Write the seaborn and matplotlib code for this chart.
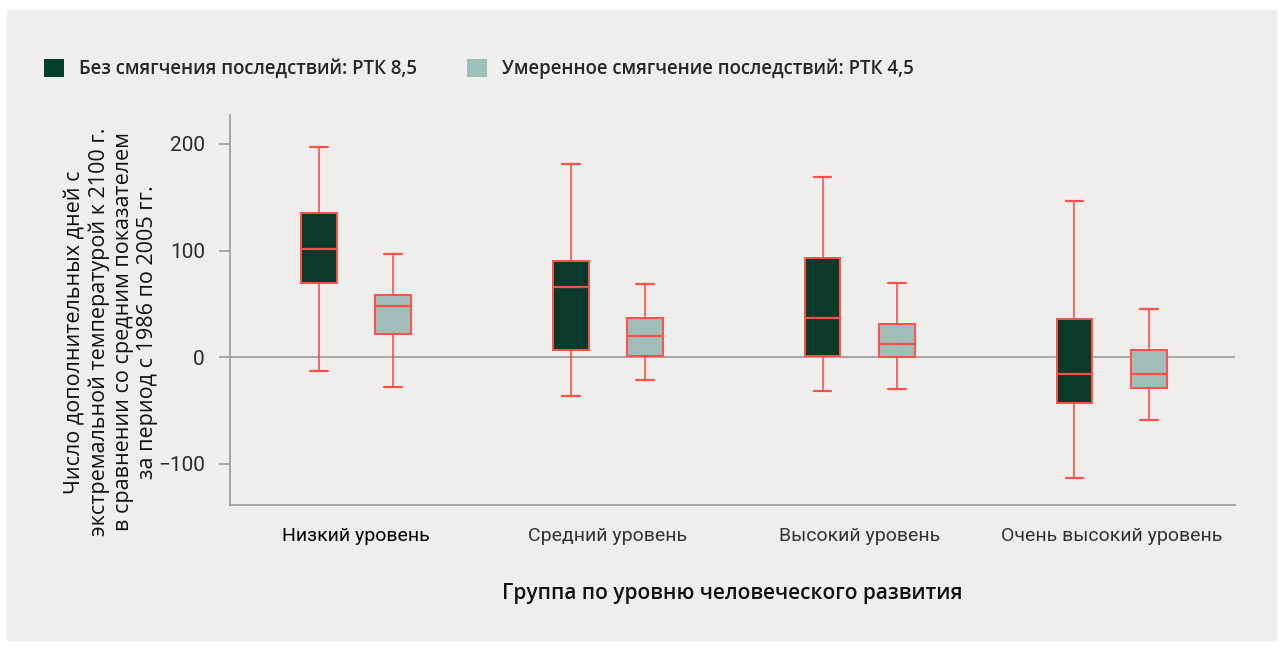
import numpy as np
import pandas as pd
import matplotlib
matplotlib.use("Agg")
import matplotlib.pyplot as plt
from matplotlib.patches import Rectangle, Patch
import seaborn as sns

groups = ["Низкий уровень", "Средний уровень", "Высокий уровень", "Очень высокий уровень"]
scenarios = ["Без смягчения последствий: РТК 8,5", "Умеренное смягчение последствий: РТК 4,5"]

# five-number summaries [min, q1, median, q3, max]
rcp85_stats = [
    [-13, 70, 101, 135, 197],
    [-36, 7, 66, 90, 181],
    [-32, 1.5, 37, 93, 169],
    [-113, -43, -16, 36, 146],
]
rcp45_stats = [
    [-28, 22, 48, 58, 97],
    [-21, 1, 20, 37, 69],
    [-30, 0.6, 12, 31, 70],
    [-59, -28.5, -16, 7, 45],
]

rows = []
for g, s85, s45 in zip(groups, rcp85_stats, rcp45_stats):
    for v in s85:
        rows.append((g, scenarios[0], v))
    for v in s45:
        rows.append((g, scenarios[1], v))
df = pd.DataFrame(rows, columns=["group", "scenario", "value"])

dark = "#03412C"
light = "#9BC2BA"
edge = "#FF5048"
bg = "#EFEEEC"
axis_gray = "#9A9A9A"

sns.set_style("white")
plt.rcParams["font.family"] = ["Open Sans", "DejaVu Sans"]

W, H = 1283, 650
fig = plt.figure(figsize=(W / 100, H / 100), dpi=100)
fig.patch.set_facecolor("white")
fig.patches.append(Rectangle((7 / W, 1 - 641 / H), (1277 - 7) / W, (641 - 10) / H,
                             transform=fig.transFigure, facecolor=bg, edgecolor="none", zorder=-10))

ax = fig.add_axes([230 / W, 1 - 505 / H, (1235 - 230) / W, (505 - 115) / H])
ax.set_facecolor("none")

sns.boxplot(data=df, x="group", y="value", hue="scenario", order=groups, hue_order=scenarios,
            palette=[dark, light], whis=(0, 100), width=0.59, gap=0.52,
            linecolor=edge, linewidth=1.4, fliersize=0, legend=False, ax=ax,
            whiskerprops=dict(linewidth=1.2), capprops=dict(linewidth=1.6),
            medianprops=dict(linewidth=1.6))

ax.axhline(0, color=axis_gray, lw=1.2, zorder=0)
ax.set_xlim(-0.5, 3.49)
ax.set_ylim(-138.5, 227)
ax.set_yticks([-100, 0, 100, 200])
ax.set_yticklabels(["\u2212100", "0", "100", "200"])
for sp in ["top", "right"]:
    ax.spines[sp].set_visible(False)
for sp in ["left", "bottom"]:
    ax.spines[sp].set_color(axis_gray)
    ax.spines[sp].set_linewidth(1.2)

ax.tick_params(axis="y", length=8, width=1.2, color=axis_gray, pad=10, labelsize=15,
               labelcolor="#2a2a2a", left=True)
ax.tick_params(axis="x", length=0, pad=16, labelsize=14, labelcolor="#333333")
for lab in ax.get_yticklabels() + ax.get_xticklabels():
    lab.set_family(["Roboto", "DejaVu Sans"])
    lab.set_fontweight("normal")
ax.get_xticklabels()[0].set_color("#000000")
ax.set_xlabel("")
ax.set_ylabel("")

fig.text(732 / W, 1 - 594 / H, "Группа по уровню человеческого развития", ha="center", va="center",
         fontsize=15, fontweight="semibold", color="#111111")
fig.text(111 / W, 1 - 332 / H,
         "Число дополнительных дней с\nэкстремальной температурой к 2100 г.\nв сравнении со средним показателем\nза период с 1986 по 2005 гг.",
         rotation=90, ha="center", va="center", multialignment="center", fontsize=15.5,
         linespacing=1.18, color="#111111")

handles = [Patch(facecolor=dark, edgecolor="none"), Patch(facecolor=light, edgecolor="none")]
fig.legend(handles, scenarios, loc="center left", bbox_to_anchor=(27 / W, 1 - 69 / H), ncol=2,
           frameon=False, handlelength=1.07, handleheight=1.07, handletextpad=0.8, columnspacing=2.7,
           prop=dict(family=["Open Sans", "DejaVu Sans"], weight="semibold", size=13.4))

fig.savefig("out.png", dpi=100, facecolor="white")
